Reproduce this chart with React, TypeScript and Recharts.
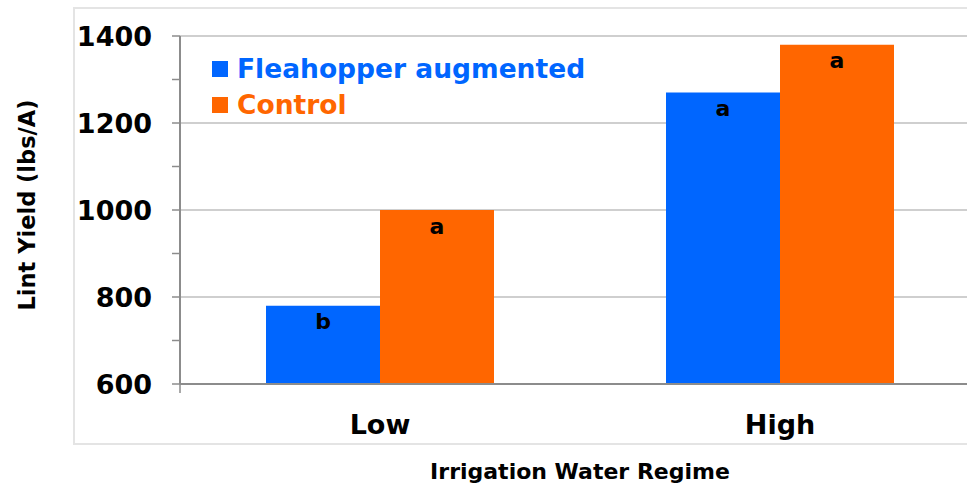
import React from 'react';
import { BarChart, Bar, XAxis, YAxis, CartesianGrid, Legend, LabelList } from 'recharts';

const regimes = ['Low', 'High'];
const fleahopperYield = [780, 1270];
const controlYield = [1000, 1380];
const fleahopperLetters = ['b', 'a'];
const controlLetters = ['a', 'a'];
const seriesNames = ['Fleahopper augmented', 'Control'];
const yTicks = [600, 700, 800, 900, 1000, 1100, 1200, 1300, 1400];
const yLabelTicks = [600, 800, 1000, 1200, 1400];
const gridValues = [800, 1000, 1200, 1400];
const categoryBounds = [0, 1, 2];
const yTitle = 'Lint Yield (lbs/A)';
const xTitle = 'Irrigation Water Regime';

const BLUE = '#0066ff';
const ORANGE = '#ff6600';
const AXIS = '#8c8c8c';
const FONT = '"DejaVu Sans", Verdana, sans-serif';

const data = regimes.map((r, i) => ({
  regime: r,
  flea: fleahopperYield[i],
  control: controlYield[i],
  fleaLetter: fleahopperLetters[i],
  controlLetter: controlLetters[i],
}));

const YTick = (props: any) => {
  const { x, y, payload } = props;
  if (!yLabelTicks.includes(payload.value)) return null;
  return (
    <text x={x} y={y} dy="0.36em" textAnchor="end" fill="#000" fontSize={27} fontWeight="bold" fontFamily={FONT}>
      {payload.value}
    </text>
  );
};

const NoTick = () => null;

const YTitle = (props: any) => {
  const vb = props.viewBox;
  const cx = vb.x + 17;
  const cy = vb.y + vb.height / 2 - 5;
  return (
    <text x={cx} y={cy} transform={`rotate(-90, ${cx}, ${cy})`} textAnchor="middle" dominantBaseline="central" fill="#000" fontSize={22.5} fontWeight="bold" fontFamily={FONT}>
      {yTitle}
    </text>
  );
};

const XTitle = (props: any) => {
  const vb = props.viewBox;
  return (
    <text x={vb.x + vb.width / 2} y={vb.y + vb.height - 7} textAnchor="middle" fill="#000" fontSize={22} fontWeight="bold" fontFamily={FONT}>
      {xTitle}
    </text>
  );
};

const LegendContent = (props: any) => {
  const items = [...(props.payload || [])].sort(
    (a: any, b: any) => seriesNames.indexOf(a.value) - seriesNames.indexOf(b.value)
  );
  return (
    <div style={{ fontFamily: FONT }}>
      {items.map((p: any) => (
        <div key={p.value} style={{ display: 'flex', alignItems: 'center', height: 36, lineHeight: '36px', color: p.color, fontSize: 26.5, fontWeight: 'bold', whiteSpace: 'nowrap' }}>
          <span style={{ display: 'inline-block', width: 16, height: 16, background: p.color, marginRight: 9 }} />
          <span>{p.value}</span>
        </div>
      ))}
    </div>
  );
};

export default function App() {
  return (
    <div style={{ position: 'absolute', left: 0, top: 0, width: 967, height: 486, overflow: 'hidden', background: '#fff', fontFamily: FONT }}>
      <div style={{ position: 'absolute', left: 73, top: 7, width: 1000, height: 434, border: '2px solid #e4e4e4' }} />
      <div style={{ position: 'absolute', left: 0, top: 0 }}>
        <BarChart
          width={1000}
          height={486}
          data={data}
          margin={{ top: 36, right: 20, bottom: 0, left: 10 }}
          barCategoryGap="21.5%"
          barGap={0}
        >
          <CartesianGrid xAxisId="cat" vertical={false} horizontalValues={gridValues} stroke="#a0a0a0" strokeWidth={1.2} />
          <XAxis
            xAxisId="bounds"
            type="number"
            domain={[0, 2]}
            ticks={categoryBounds}
            interval={0}
            allowDataOverflow
            height={10}
            tick={<NoTick />}
            tickSize={9}
            axisLine={{ stroke: AXIS, strokeWidth: 2 }}
            tickLine={{ stroke: AXIS, strokeWidth: 1.5 }}
          />
          <XAxis
            xAxisId="cat"
            dataKey="regime"
            height={92}
            axisLine={false}
            tickLine={false}
            tickSize={0}
            tickMargin={21}
            tick={{ fill: '#000', fontSize: 27, fontWeight: 'bold', fontFamily: FONT }}
            label={{ content: XTitle }}
          />
          <YAxis
            domain={[600, 1400]}
            ticks={yTicks}
            interval={0}
            width={170}
            tickSize={8}
            tickMargin={20}
            allowDataOverflow
            axisLine={{ stroke: AXIS, strokeWidth: 2 }}
            tickLine={{ stroke: AXIS, strokeWidth: 1.5 }}
            tick={<YTick />}
            label={{ content: YTitle }}
          />
          <Legend
            layout="vertical"
            align="center"
            verticalAlign="middle"
            wrapperStyle={{ position: 'absolute', left: 212, top: 51, width: 'auto', height: 'auto' }}
            content={<LegendContent />}
          />
          <Bar xAxisId="cat" dataKey="flea" name={seriesNames[0]} fill={BLUE} isAnimationActive={false}>
            <LabelList dataKey="fleaLetter" position="insideTop" offset={8} fill="#000" fontSize={22} fontWeight="bold" fontFamily={FONT} />
          </Bar>
          <Bar xAxisId="cat" dataKey="control" name={seriesNames[1]} fill={ORANGE} isAnimationActive={false}>
            <LabelList dataKey="controlLetter" position="insideTop" offset={8} fill="#000" fontSize={22} fontWeight="bold" fontFamily={FONT} />
          </Bar>
        </BarChart>
      </div>
    </div>
  );
}
